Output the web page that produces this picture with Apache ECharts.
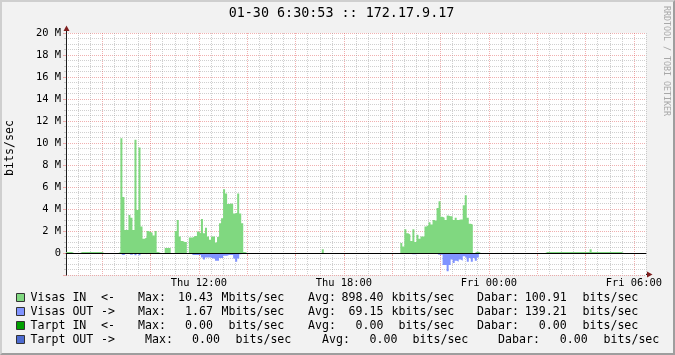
<!DOCTYPE html>
<html><head><meta charset="utf-8">
<script src="https://cdn.jsdelivr.net/npm/echarts@6/dist/echarts.min.js"></script>
<style>
html,body{margin:0;padding:0;background:#f2f2f2}
#wrap{position:relative;width:675px;height:355px}
#c{width:675px;height:355px}
#b{position:absolute;left:0;top:0;width:675px;height:355px;box-sizing:border-box;border:2px solid;border-color:#cfcfcf #9e9e9e #9e9e9e #cfcfcf;pointer-events:none}
</style>
</head><body><div id="wrap"><div id="c"></div><div id="b"></div></div>
<script>
// ---------------- data ----------------
const titleText = '01-30 6:30:53 :: 172.17.9.17';
const xTickLabels = ['Thu 12:00', 'Thu 18:00', 'Fri 00:00', 'Fri 06:00'];
// 5-minute samples, values in Mbits/sec, each block starts at the given time
const visasInBlocks = [
  ['Thu 06:30', [0.09, 0.09, 0.09]],
  ['Thu 07:05', [0.09, 0.09, 0.09, 0.09, 0.09, 0.09, 0.09, 0.09, 0.09, 0.09, 0.09]],
  ['Thu 08:40', [0.09, 10.43, 5.1, 2.1, 2.1, 3.45, 3.2, 2.1, 10.3, 3.9, 9.6, 2.4, 1.3, 1.4, 2.0, 1.9, 1.85, 1.6, 2.0, 0.09]],
  ['Thu 10:35', [0.45, 0.45, 0.45]],
  ['Thu 11:00', [2.0, 3.0, 1.5, 1.1, 1.0, 1.0, 0, 1.4, 1.4, 1.55, 1.55, 1.95, 1.8, 3.1, 1.8, 2.3, 1.5, 1.2, 1.5, 1.5, 0.95, 1.45, 2.7, 3.15, 5.8, 5.4, 4.45, 4.5, 4.45, 3.6, 3.65, 5.4, 3.6, 2.7, 0.09]],
  ['Thu 17:05', [0.35]],
  ['Thu 20:20', [0.9, 0.6, 2.15, 1.8, 1.65, 1.1, 2.15, 1.0, 1.65, 1.3, 1.5, 1.5, 2.4, 2.55, 2.8, 2.6, 3.0, 2.9, 4.1, 4.7, 3.3, 3.2, 3.0, 3.4, 3.35, 3.35, 3.0, 3.2, 3.0, 3.05, 3.05, 4.35, 5.25, 3.2, 2.65, 2.6, 0, 0.12, 0.12]],
  ['Fri 02:20', [0.09, 0.09, 0.09, 0.09, 0.09, 0.09, 0.09, 0.09, 0.09, 0.09, 0.09, 0.09, 0.09, 0.09, 0.09, 0.09, 0.09, 0.09, 0.09, 0.09, 0.09, 0.09, 0.35, 0.09, 0.09, 0.09, 0.09, 0.09, 0.09, 0.09, 0.09, 0.09, 0.09, 0.09, 0.09, 0.09, 0.09, 0.09]]
];
const visasOutBlocks = [
  ['Thu 08:45', [0.18, 0.18, 0, 0, 0.15, 0.15, 0, 0.2, 0, 0.2, 0, 0, 0.12]],
  ['Thu 11:40', [0.18, 0.18, 0.18, 0.18, 0.18, 0.4, 0.6, 0.4, 0.4, 0.4, 0.5, 0.5, 0.7, 0.7, 0.45, 0.45, 0.25, 0.25, 0.18, 0.18, 0.18, 0.5, 0.8, 0.5, 0.12]],
  ['Thu 20:45', [0.12, 0.12, 0.12]],
  ['Thu 21:50', [0.15, 0.15, 0.15, 1.1, 1.1, 1.67, 1.1, 0.6, 0.9, 0.7, 0.8, 0.6, 0.7, 0.3, 0.45, 0.8, 0.45, 0.8, 0.45, 0.7, 0.4]]
];
const legendNames = ['Visas IN', 'Visas OUT', 'Tarpt IN', 'Tarpt OUT'];
const legendArrows = ['<-', '->', '<-', '->'];
const maxValues = ['10.43', '1.67', '0.00', '0.00'];
const maxUnits = ['Mbits/sec', 'Mbits/sec', ' bits/sec', ' bits/sec'];
const avgValues = ['898.40', '69.15', '0.00', '0.00'];
const avgUnits = ['kbits/sec', 'kbits/sec', ' bits/sec', ' bits/sec'];
const curValues = ['100.91', '139.21', '0.00', '0.00'];
const curUnits = [' bits/sec', ' bits/sec', ' bits/sec', ' bits/sec'];
const legendColors = ['#80d880', '#8093ff', '#00a000', '#4d6bd0'];

// ---------------- build ----------------
const START = 6 * 60 + 30, STEP = 5, N = 289;
function pad(n) { return (n < 10 ? '0' : '') + n; }
const cats = [];
for (let i = 0; i < N; i++) {
  const m = START + i * STEP;
  const d = m >= 1440 ? 'Fri' : 'Thu';
  const mm = m % 1440;
  cats.push(d + ' ' + pad(Math.floor(mm / 60)) + ':' + pad(mm % 60));
}
function minuteOf(i) { return START + i * STEP; }
function buildSeries(blocks, sign) {
  const arr = new Array(N).fill(0);
  blocks.forEach(([t, vals]) => {
    const s = cats.indexOf(t);
    vals.forEach((v, j) => { arr[s + j] = sign * v; });
  });
  return arr;
}
const inData = buildSeries(visasInBlocks, 1);
const outData = buildSeries(visasOutBlocks, -1);

const MONO = '"DejaVu Sans Mono", monospace';
const GL = 66, GT = 33, GW = 580, GH = 242;
const MINOR = 'rgba(150,150,150,0.45)';
const MAJOR = 'rgba(225,80,80,0.45)';
const AXIS = '#1f1f1f';
const ARROW = '#801f1f';

const chart = echarts.init(document.getElementById('c'), null, { renderer: 'canvas' });

const graphics = [];
graphics.push({ type: 'text', x: 341.5, y: 13.5, style: { text: titleText, fontFamily: MONO, fontSize: 13.4, fill: '#000', align: 'center', verticalAlign: 'middle' } });
graphics.push({ type: 'text', x: 10, y: 148, rotation: Math.PI / 2, style: { text: 'bits/sec', fontFamily: MONO, fontSize: 11.6, fill: '#000', align: 'center', verticalAlign: 'middle' } });
graphics.push({ type: 'text', x: 666.5, y: 61, rotation: -Math.PI / 2, style: { text: 'RRDTOOL / TOBI OETIKER', fontFamily: MONO, fontSize: 8.3, fill: '#a8a8a8', align: 'center', verticalAlign: 'middle' } });
// axis arrows
graphics.push({ type: 'line', z: 10, shape: { x1: GL + 0.5, y1: GT, x2: GL + 0.5, y2: GT - 3 }, style: { stroke: AXIS, lineWidth: 1 } });
graphics.push({ type: 'polygon', z: 10, shape: { points: [[GL - 2.5, GT - 2], [GL + 3.5, GT - 2], [GL + 0.5, GT - 7.5]] }, style: { fill: ARROW } });
graphics.push({ type: 'line', z: 10, shape: { x1: GL + GW, y1: GT + GH - 0.5, x2: GL + GW + 2, y2: GT + GH - 0.5 }, style: { stroke: AXIS, lineWidth: 1 } });
graphics.push({ type: 'polygon', z: 10, shape: { points: [[GL + GW + 1, GT + GH - 3.5], [GL + GW + 1, GT + GH + 2.5], [GL + GW + 6.5, GT + GH - 0.5]] }, style: { fill: ARROW } });

// legend
const LF = 11.6, ADV = 7;
const lineY = [298, 312, 326, 340];
const lineShift = [0, 0, 0, 1];
function txt(x, y, s, align) {
  graphics.push({ type: 'text', x: x, y: y, style: { text: s, fontFamily: MONO, fontSize: LF, fill: '#000', align: align || 'left', verticalAlign: 'middle' } });
}
for (let i = 0; i < 4; i++) {
  const y = lineY[i];
  const sh = lineShift[i] * ADV;
  graphics.push({ type: 'rect', shape: { x: 16.5, y: y - 4.5, width: 8, height: 8 }, style: { fill: legendColors[i], stroke: '#333', lineWidth: 1 } });
  txt(30.5, y, legendNames[i]);
  txt(101, y, legendArrows[i]);
  txt(138 + sh, y, 'Max:');
  txt(213 + sh, y, maxValues[i], 'right');
  txt(221.5 + sh, y, maxUnits[i]);
  txt(308 + 2 * sh, y, 'Avg:');
  txt(383.5 + 2 * sh, y, avgValues[i], 'right');
  txt(391.5 + 2 * sh, y, avgUnits[i]);
  txt(477 + 3 * sh, y, 'Dabar:');
  txt(566.7 + 3 * sh, y, curValues[i], 'right');
  txt(575.5 + 3 * sh, y, curUnits[i]);
}

chart.setOption({
  animation: false,
  backgroundColor: '#f2f2f2',
  grid: { left: GL, top: GT, width: GW, height: GH, show: true, backgroundColor: '#ffffff', borderWidth: 0 },
  xAxis: [{
    type: 'category', data: cats, boundaryGap: false,
    axisLine: { show: true, lineStyle: { color: AXIS, width: 1 } },
    axisTick: { show: true, length: 3, interval: (i) => minuteOf(i) % 120 === 0, lineStyle: { color: MAJOR } },
    axisLabel: { show: true, interval: (i, v) => xTickLabels.indexOf(v) >= 0, fontFamily: MONO, fontSize: 10.4, color: '#000', margin: 3 },
    splitLine: { show: true, interval: (i) => minuteOf(i) % 30 === 0 && minuteOf(i) % 120 !== 0, lineStyle: { color: MINOR, type: [1, 1], width: 1 } }
  }, {
    type: 'category', data: cats, boundaryGap: false, gridIndex: 0, position: 'bottom',
    axisLine: { show: false }, axisTick: { show: false }, axisLabel: { show: false },
    splitLine: { show: true, interval: (i) => minuteOf(i) % 120 === 0, lineStyle: { color: MAJOR, type: [1, 1], width: 1 } }
  }],
  yAxis: [{
    type: 'value', min: -2, max: 20, interval: 2,
    axisLine: { show: true, lineStyle: { color: AXIS, width: 1 } },
    axisTick: { show: true, length: 3, lineStyle: { color: MAJOR } },
    minorTick: { show: true, splitNumber: 4, length: 2, lineStyle: { color: MINOR } },
    axisLabel: { fontFamily: MONO, fontSize: 10.4, color: '#000', margin: 5,
      formatter: (v) => v === -2 ? '' : (v === 0 ? '0' : v + ' M') },
    splitLine: { show: false },
    minorSplitLine: { show: true, lineStyle: { color: MINOR, type: [1, 1], width: 1 } }
  }, {
    type: 'value', min: -2, max: 20, interval: 2, position: 'left',
    axisLine: { show: false }, axisTick: { show: false }, axisLabel: { show: false },
    splitLine: { show: true, lineStyle: { color: MAJOR, type: [1, 1], width: 1 } }
  }],
  series: [{
    name: 'Visas IN', type: 'line', data: inData, step: 'end', symbol: 'none',
    lineStyle: { width: 0 }, itemStyle: { color: legendColors[0] },
    areaStyle: { color: legendColors[0], opacity: 1 }, z: 2,
    markLine: { symbol: 'none', silent: true, animation: false, label: { show: false },
      lineStyle: { color: '#000', width: 1, type: 'solid' }, data: [{ yAxis: 0 }] }
  }, {
    name: 'Visas OUT', type: 'line', data: outData, step: 'end', symbol: 'none',
    lineStyle: { width: 0 }, itemStyle: { color: legendColors[1] },
    areaStyle: { color: legendColors[1], opacity: 1 }, z: 2
  }],
  graphic: graphics
});
</script></body></html>
